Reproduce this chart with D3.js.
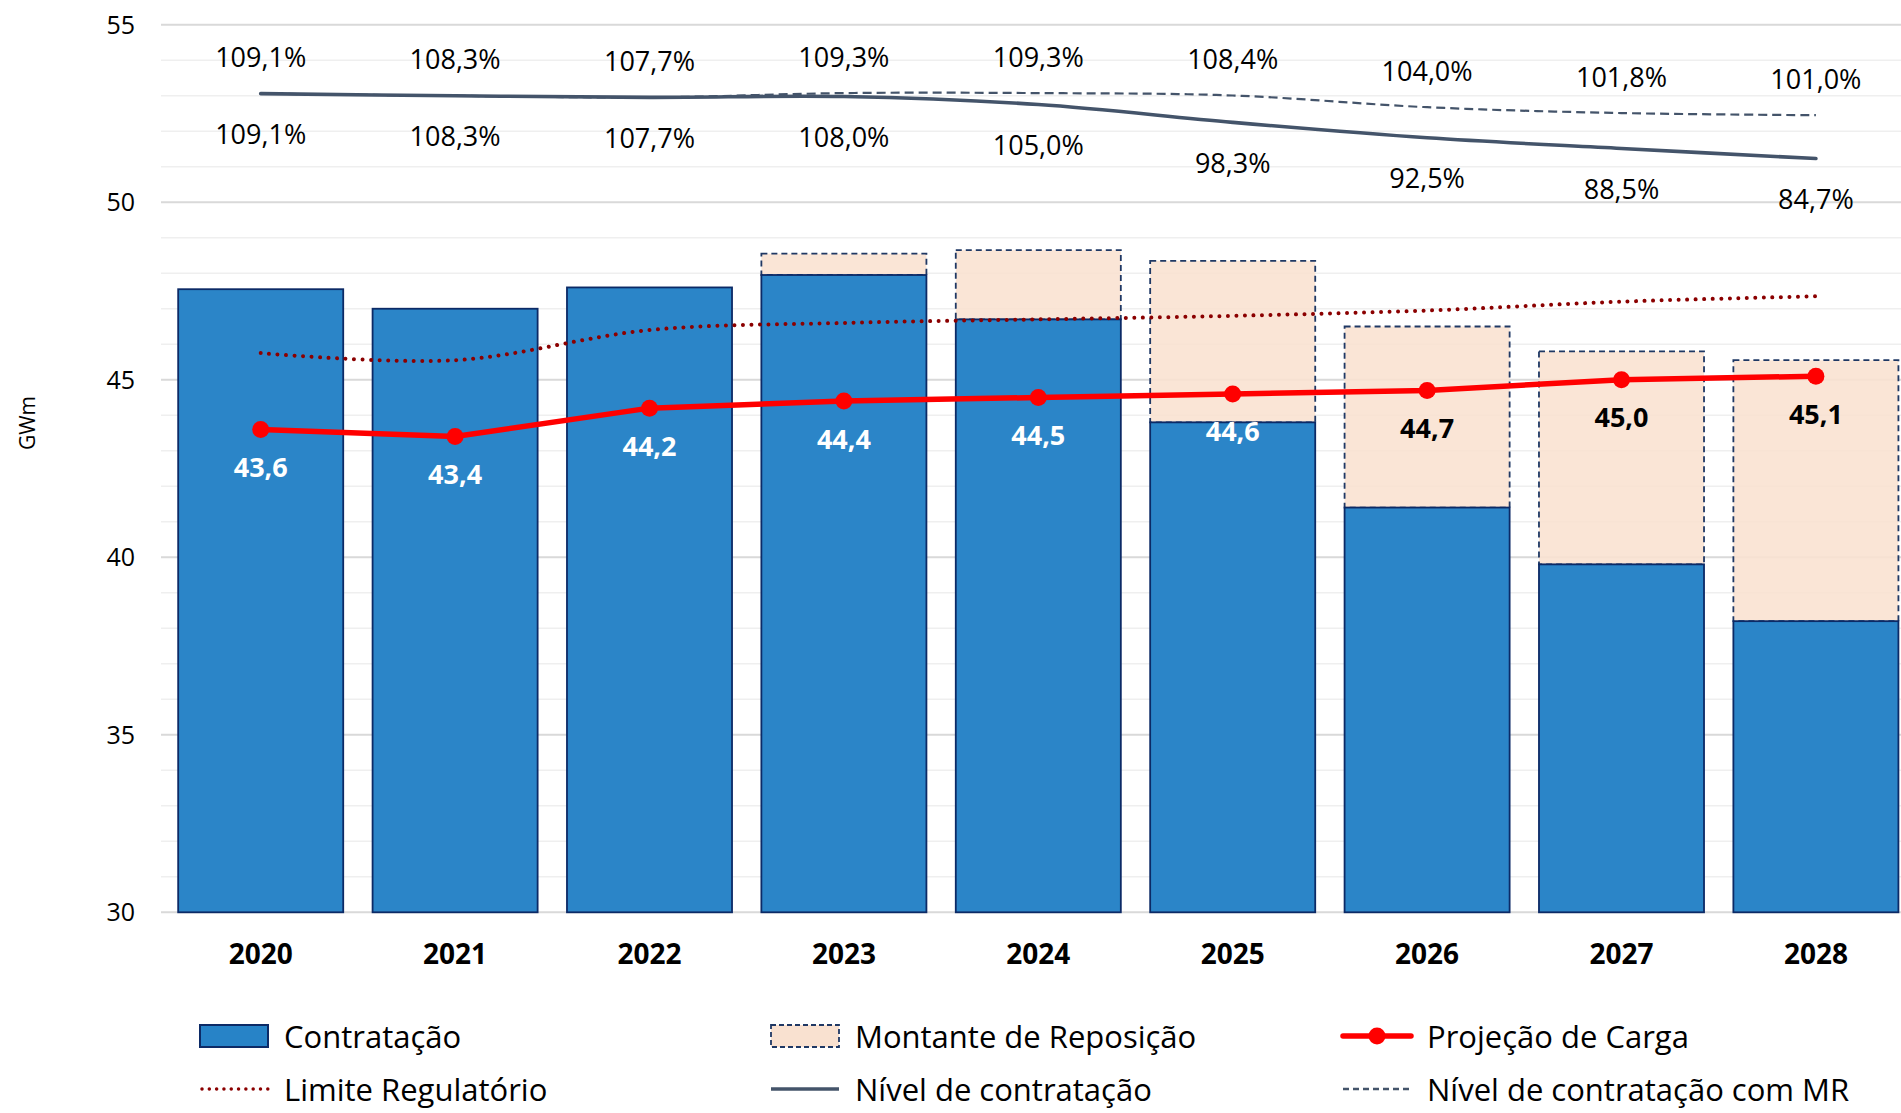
<!DOCTYPE html>
<html>
<head>
<meta charset="utf-8">
<script src="https://cdn.jsdelivr.net/npm/d3@7"></script>
<style>
  html, body { margin: 0; padding: 0; background: #fff; }
  svg { display: block; font-family: "Open Sans", "Noto Sans", sans-serif; }
</style>
</head>
<body>
<svg id="chart" width="1901" height="1113"></svg>
<script>
// ---------------- DATA ----------------
const categories   = ["2020", "2021", "2022", "2023", "2024", "2025", "2026", "2027", "2028"];
const contratacao  = [47.55, 47.0, 47.6, 47.95, 46.7, 43.8, 41.4, 39.8, 38.2];
const reposicao    = [0, 0, 0, 0.6, 1.95, 4.55, 5.1, 6.0, 7.35];
const projecaoCarga = [43.6, 43.4, 44.2, 44.4, 44.5, 44.6, 44.7, 45.0, 45.1];
const limiteRegulatorio = [45.75, 45.55, 46.4, 46.6, 46.7, 46.8, 46.95, 47.2, 47.35];
const nivelContratacao   = [109.1, 108.3, 107.7, 108.0, 105.0, 98.3, 92.5, 88.5, 84.7];
const nivelContratacaoMR = [109.1, 108.3, 107.7, 109.3, 109.3, 108.4, 104.0, 101.8, 101.0];
const yTicks = [30, 35, 40, 45, 50, 55];
const legendLabels = ["Contratação", "Montante de Reposição", "Projeção de Carga",
                      "Limite Regulatório", "Nível de contratação", "Nível de contratação com MR"];
const yAxisTitle = "GWm";

// ---------------- SETUP ----------------
const svg = d3.select("#chart");
const fmt1 = v => d3.format(".1f")(v).replace(".", ",");

const x = d3.scaleBand().domain(categories)
  .range([163.5, 1913.1]).paddingInner(0.151).paddingOuter(0.0755);
const y = d3.scaleLinear().domain([30, 55]).range([912.3, 24.7]);
const yPct = d3.scaleLinear().domain([-198.5, 135]).range([912.3, 24.7]);
const cx = c => x(c) + x.bandwidth() / 2;

// gridlines
const grid = svg.append("g");
const minorTicks = d3.range(30, 56, 1).filter(v => v % 5 !== 0);
grid.selectAll("line.minor").data(minorTicks).join("line")
  .attr("x1", 161).attr("x2", 1901)
  .attr("y1", d => y(d)).attr("y2", d => y(d))
  .attr("stroke", "#EFEFEF").attr("stroke-width", 1.5);
grid.selectAll("line.major").data(yTicks).join("line")
  .attr("x1", 161).attr("x2", 1901)
  .attr("y1", d => y(d)).attr("y2", d => y(d))
  .attr("stroke", "#D9D9D9").attr("stroke-width", 2);

// y axis labels
const yAxis = d3.axisLeft(y).tickValues(yTicks).tickSize(0).tickPadding(0);
const ya = svg.append("g").attr("transform", "translate(135,0)").call(yAxis);
ya.select(".domain").remove();
ya.selectAll("text").attr("font-size", 25).attr("fill", "#000")
  .attr("font-family", "'Open Sans', sans-serif").attr("dy", "0.34em");

svg.append("text").text(yAxisTitle)
  .attr("transform", "translate(27,423) rotate(-90)")
  .attr("text-anchor", "middle").attr("dominant-baseline", "central")
  .attr("font-size", 21).attr("fill", "#000");

// x axis labels
const xAxis = d3.axisBottom(x).tickSize(0).tickPadding(0);
const xa = svg.append("g").attr("transform", "translate(0,954)").call(xAxis);
xa.select(".domain").remove();
xa.selectAll("text").attr("font-size", 28).attr("font-weight", "bold").attr("fill", "#000")
  .attr("font-family", "'Open Sans', sans-serif").attr("dy", "0.36em");

// reposição bars (stacked on contratação)
svg.append("g").selectAll("rect").data(categories.filter((c, i) => reposicao[i] > 0)).join("rect")
  .attr("x", c => x(c))
  .attr("width", x.bandwidth())
  .attr("y", c => { const i = categories.indexOf(c); return y(contratacao[i] + reposicao[i]); })
  .attr("height", c => { const i = categories.indexOf(c); return y(contratacao[i]) - y(contratacao[i] + reposicao[i]); })
  .attr("fill", "#F9E1D0").attr("fill-opacity", 0.88)
  .attr("stroke", "#1F3864").attr("stroke-width", 1.8).attr("stroke-dasharray", "6,4");

// contratação bars
svg.append("g").selectAll("rect").data(categories).join("rect")
  .attr("x", c => x(c))
  .attr("width", x.bandwidth())
  .attr("y", (c, i) => y(contratacao[i]))
  .attr("height", (c, i) => y(30) - y(contratacao[i]))
  .attr("fill", "#2783C7").attr("fill-opacity", 0.98)
  .attr("stroke", "#0C2A66").attr("stroke-width", 1.8);

// limite regulatório (dotted, smoothed)
svg.append("path").datum(limiteRegulatorio)
  .attr("d", d3.line().x((d, i) => cx(categories[i])).y(d => y(d)).curve(d3.curveCatmullRom.alpha(0.5)))
  .attr("fill", "none").attr("stroke", "#8B0000").attr("stroke-width", 4)
  .attr("stroke-linecap", "round").attr("stroke-dasharray", "0.01,8.5");

// projeção de carga
svg.append("path").datum(projecaoCarga)
  .attr("d", d3.line().x((d, i) => cx(categories[i])).y(d => y(d)))
  .attr("fill", "none").attr("stroke", "#FF0000").attr("stroke-width", 5.5)
  .attr("stroke-linejoin", "round");
svg.append("g").selectAll("circle").data(projecaoCarga).join("circle")
  .attr("cx", (d, i) => cx(categories[i])).attr("cy", d => y(d)).attr("r", 8.5)
  .attr("fill", "#FF0000");
svg.append("g").selectAll("text").data(projecaoCarga).join("text")
  .attr("x", (d, i) => cx(categories[i])).attr("y", d => y(d) + 37)
  .attr("text-anchor", "middle").attr("dominant-baseline", "central")
  .attr("font-size", 27).attr("font-weight", "bold")
  .attr("fill", (d, i) => (y(d) + 37 < y(contratacao[i]) ? "#000" : "#fff"))
  .text(d => fmt1(d));

// nível de contratação com MR (dashed)
const pctLine = d3.line().x((d, i) => cx(categories[i])).y(d => yPct(d)).curve(d3.curveCatmullRom.alpha(0.5));
svg.append("path").datum(nivelContratacaoMR).attr("d", pctLine)
  .attr("fill", "none").attr("stroke", "#44546A").attr("stroke-width", 2.2)
  .attr("stroke-dasharray", "9,5");
// nível de contratação (solid)
svg.append("path").datum(nivelContratacao).attr("d", pctLine)
  .attr("fill", "none").attr("stroke", "#44546A").attr("stroke-width", 3.6)
  .attr("stroke-linecap", "round");

svg.append("g").selectAll("text").data(nivelContratacaoMR).join("text")
  .attr("x", (d, i) => cx(categories[i])).attr("y", d => yPct(d) - 37)
  .attr("text-anchor", "middle").attr("dominant-baseline", "central")
  .attr("font-size", 27).attr("fill", "#000")
  .text(d => fmt1(d) + "%");
svg.append("g").selectAll("text").data(nivelContratacao).join("text")
  .attr("x", (d, i) => cx(categories[i])).attr("y", d => yPct(d) + 40)
  .attr("text-anchor", "middle").attr("dominant-baseline", "central")
  .attr("font-size", 27).attr("fill", "#000")
  .text(d => fmt1(d) + "%");

// ---------------- LEGEND ----------------
const legCols = [200, 771, 1341];
const legRows = [1036, 1089];
const leg = svg.append("g");
legendLabels.forEach((lab, k) => {
  const sx = legCols[k % 3], sy = legRows[Math.floor(k / 3)];
  const g = leg.append("g");
  const w = 68;
  if (k === 0) {
    g.append("rect").attr("x", sx).attr("y", sy - 11).attr("width", w).attr("height", 22)
      .attr("fill", "#2783C7").attr("stroke", "#0C2A66").attr("stroke-width", 2);
  } else if (k === 1) {
    g.append("rect").attr("x", sx).attr("y", sy - 11).attr("width", w).attr("height", 22)
      .attr("fill", "#F9E1D0").attr("stroke", "#1F3864").attr("stroke-width", 1.8).attr("stroke-dasharray", "5,3");
  } else if (k === 2) {
    g.append("line").attr("x1", sx + 2).attr("x2", sx + 70).attr("y1", sy).attr("y2", sy)
      .attr("stroke", "#FF0000").attr("stroke-width", 5.5).attr("stroke-linecap", "round");
    g.append("circle").attr("cx", sx + 36).attr("cy", sy).attr("r", 8.5).attr("fill", "#FF0000");
  } else if (k === 3) {
    g.append("line").attr("x1", sx + 2).attr("x2", sx + 68).attr("y1", sy).attr("y2", sy)
      .attr("stroke", "#8B0000").attr("stroke-width", 3.5).attr("stroke-linecap", "round")
      .attr("stroke-dasharray", "0.01,7.3");
  } else if (k === 4) {
    g.append("line").attr("x1", sx).attr("x2", sx + w).attr("y1", sy).attr("y2", sy)
      .attr("stroke", "#44546A").attr("stroke-width", 3.6);
  } else {
    g.append("line").attr("x1", sx + 2).attr("x2", sx + 72).attr("y1", sy).attr("y2", sy)
      .attr("stroke", "#44546A").attr("stroke-width", 2.4).attr("stroke-dasharray", "6,4");
  }
  const tx = k % 3 === 2 ? sx + 86 : sx + 84;
  g.append("text").attr("x", tx).attr("y", sy)
    .attr("dominant-baseline", "central").attr("font-size", 31).attr("fill", "#000")
    .text(lab);
});
</script>
</body>
</html>
